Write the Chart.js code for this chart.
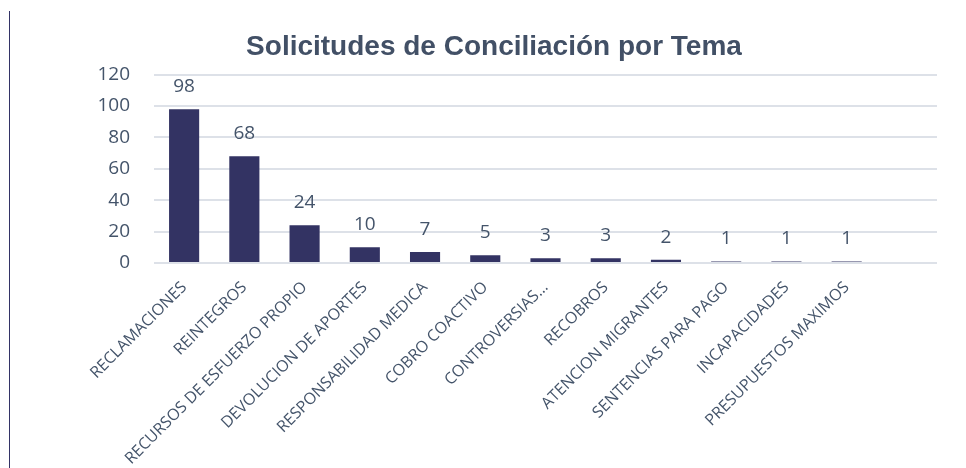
<!DOCTYPE html>
<html>
<head>
<meta charset="utf-8">
<script src="https://cdn.jsdelivr.net/npm/chart.js@4"></script>
<style>
  html, body { margin: 0; padding: 0; background: #fff; }
  #wrap { position: relative; width: 966px; height: 468px; }
  #linea { position: absolute; left: 9px; top: 11px; width: 1px; height: 457px; background: #333366; }
</style>
</head>
<body>
<div id="wrap">
  <div id="linea"></div>
  <canvas id="grafico"></canvas>
</div>
<script>
const temas = [
  'RECLAMACIONES', 'REINTEGROS', 'RECURSOS DE ESFUERZO PROPIO', 'DEVOLUCION DE APORTES',
  'RESPONSABILIDAD MEDICA', 'COBRO COACTIVO', 'CONTROVERSIAS…', 'RECOBROS',
  'ATENCION MIGRANTES', 'SENTENCIAS PARA PAGO', 'INCAPACIDADES', 'PRESUPUESTOS MAXIMOS', ''
];
const solicitudes = [98, 68, 24, 10, 7, 5, 3, 3, 2, 1, 1, 1, null];
const ticksY = [0, 20, 40, 60, 80, 100, 120];

const colorTexto = '#44546a';

// etiquetas de valor encima de cada barra
const etiquetas = {
  id: 'etiquetas',
  afterDatasetsDraw(chart) {
    const ctx = chart.ctx;
    const meta = chart.getDatasetMeta(0);
    ctx.save();
    ctx.font = '19px "Open Sans"';
    ctx.fillStyle = colorTexto;
    ctx.textAlign = 'center';
    ctx.textBaseline = 'alphabetic';
    meta.data.forEach((bar, i) => {
      if (solicitudes[i] == null) return;
      ctx.fillText(String(solicitudes[i]), bar.x, bar.y - 17);
    });
    ctx.restore();
  }
};

const ctx = document.getElementById('grafico').getContext('2d');
new Chart(ctx, {
  type: 'bar',
  data: {
    labels: temas,
    datasets: [{
      data: solicitudes,
      backgroundColor: '#333363',
      barPercentage: 0.5,
      categoryPercentage: 1
    }]
  },
  options: {
    responsive: true,
    maintainAspectRatio: false,
    animation: false,
    layout: { padding: { top: 20, left: 51, right: 29, bottom: 0 } },
    plugins: {
      legend: { display: false },
      tooltip: { enabled: false },
      title: {
        display: true,
        text: 'Solicitudes de Conciliación por Tema',
        color: '#425066',
        font: { family: '"Liberation Sans", Arial, sans-serif', size: 28, weight: 'bold' },
        padding: { top: 10, bottom: 11 }
      }
    },
    scales: {
      x: {
        grid: { display: false },
        border: { display: false },
        ticks: {
          color: colorTexto,
          font: { family: '"Open Sans"', size: 16 },
          minRotation: 45,
          maxRotation: 45,
          autoSkip: false,
          padding: 7
        },
        afterFit(scale) { scale.height = 468 - 263; }
      },
      y: {
        min: 0,
        max: 120,
        afterBuildTicks(scale) { scale.ticks = ticksY.map(v => ({ value: v })); },
        grid: { color: '#dde1e8', lineWidth: 2, drawTicks: false },
        border: { display: false },
        ticks: {
          color: colorTexto,
          font: { family: '"Open Sans"', size: 19 },
          padding: 24
        },
        afterFit(scale) { scale.width = 103; }
      }
    }
  },
  plugins: [etiquetas]
});
</script>
</body>
</html>
